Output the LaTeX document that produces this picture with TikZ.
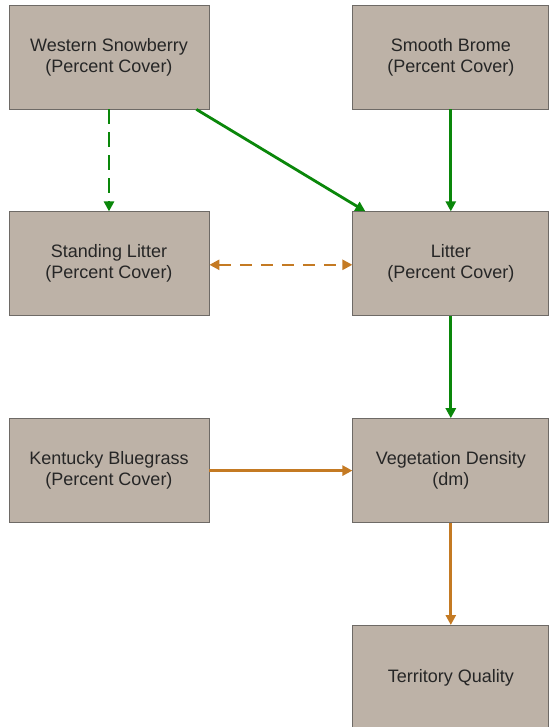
\documentclass[tikz,border=0pt]{standalone}
\usepackage{fontspec}
\setmainfont{Liberation Sans}
\usepackage{tikz}
\usetikzlibrary{positioning, arrows.meta, calc}

\definecolor{boxfill}{HTML}{BDB2A7}
\definecolor{boxline}{HTML}{6E6A66}
\definecolor{effgreen}{HTML}{0A870A}
\definecolor{efforange}{HTML}{C47A23}

\begin{document}
\begin{tikzpicture}[
    x=1pt, y=-1pt,
    node distance=102pt and 143pt,
    box/.style={draw=boxline, line width=0.8pt, fill=boxfill, align=center, text=black!85, minimum width=200pt, minimum height=104pt, inner sep=0pt, font=\fontsize{18}{21}\selectfont},
    rbox/.style={box, minimum width=196pt},
    arrow/.style={-{Triangle[length=10pt, width=10pt]}, line width=2.8pt},
    greenarrow/.style={arrow, draw=effgreen},
    brownarrow/.style={arrow, draw=efforange}
]
\useasboundingbox (0,0) rectangle (548,727);

% Left column
\node[box] (snow) at (109,57) {Western Snowberry\\(Percent Cover)};
\node[box, below=of snow] (standing) {Standing Litter\\(Percent Cover)};
\node[box, below=of standing] (bluegrass) {Kentucky Bluegrass\\(Percent Cover)};

% Right column
\node[rbox, right=of snow] (brome) {Smooth Brome\\(Percent Cover)};
\node[rbox, right=of standing] (litter) {Litter\\(Percent Cover)};
\node[rbox, right=of bluegrass] (density) {Vegetation Density\\(dm)};
\node[rbox, below=of density] (quality) {Territory Quality};

% Paths
\draw[greenarrow, dash pattern=on 15pt off 8pt] (snow.south) -- (standing.north);
\draw[greenarrow] ([xshift=-13pt]snow.south east) -- ([xshift=13pt]litter.north west);
\draw[greenarrow] (brome.south) -- (litter.north);
\draw[brownarrow, line width=2.4pt, {Triangle[length=10pt, width=10pt]}-{Triangle[length=10pt, width=10pt]}, dash pattern=on 12pt off 9pt] ([yshift=-1pt]standing.east) -- ([yshift=-1pt]litter.west);
\draw[greenarrow] (litter.south) -- (density.north);
\draw[brownarrow] (bluegrass.east) -- (density.west);
\draw[brownarrow] (density.south) -- (quality.north);

\end{tikzpicture}
\end{document}
